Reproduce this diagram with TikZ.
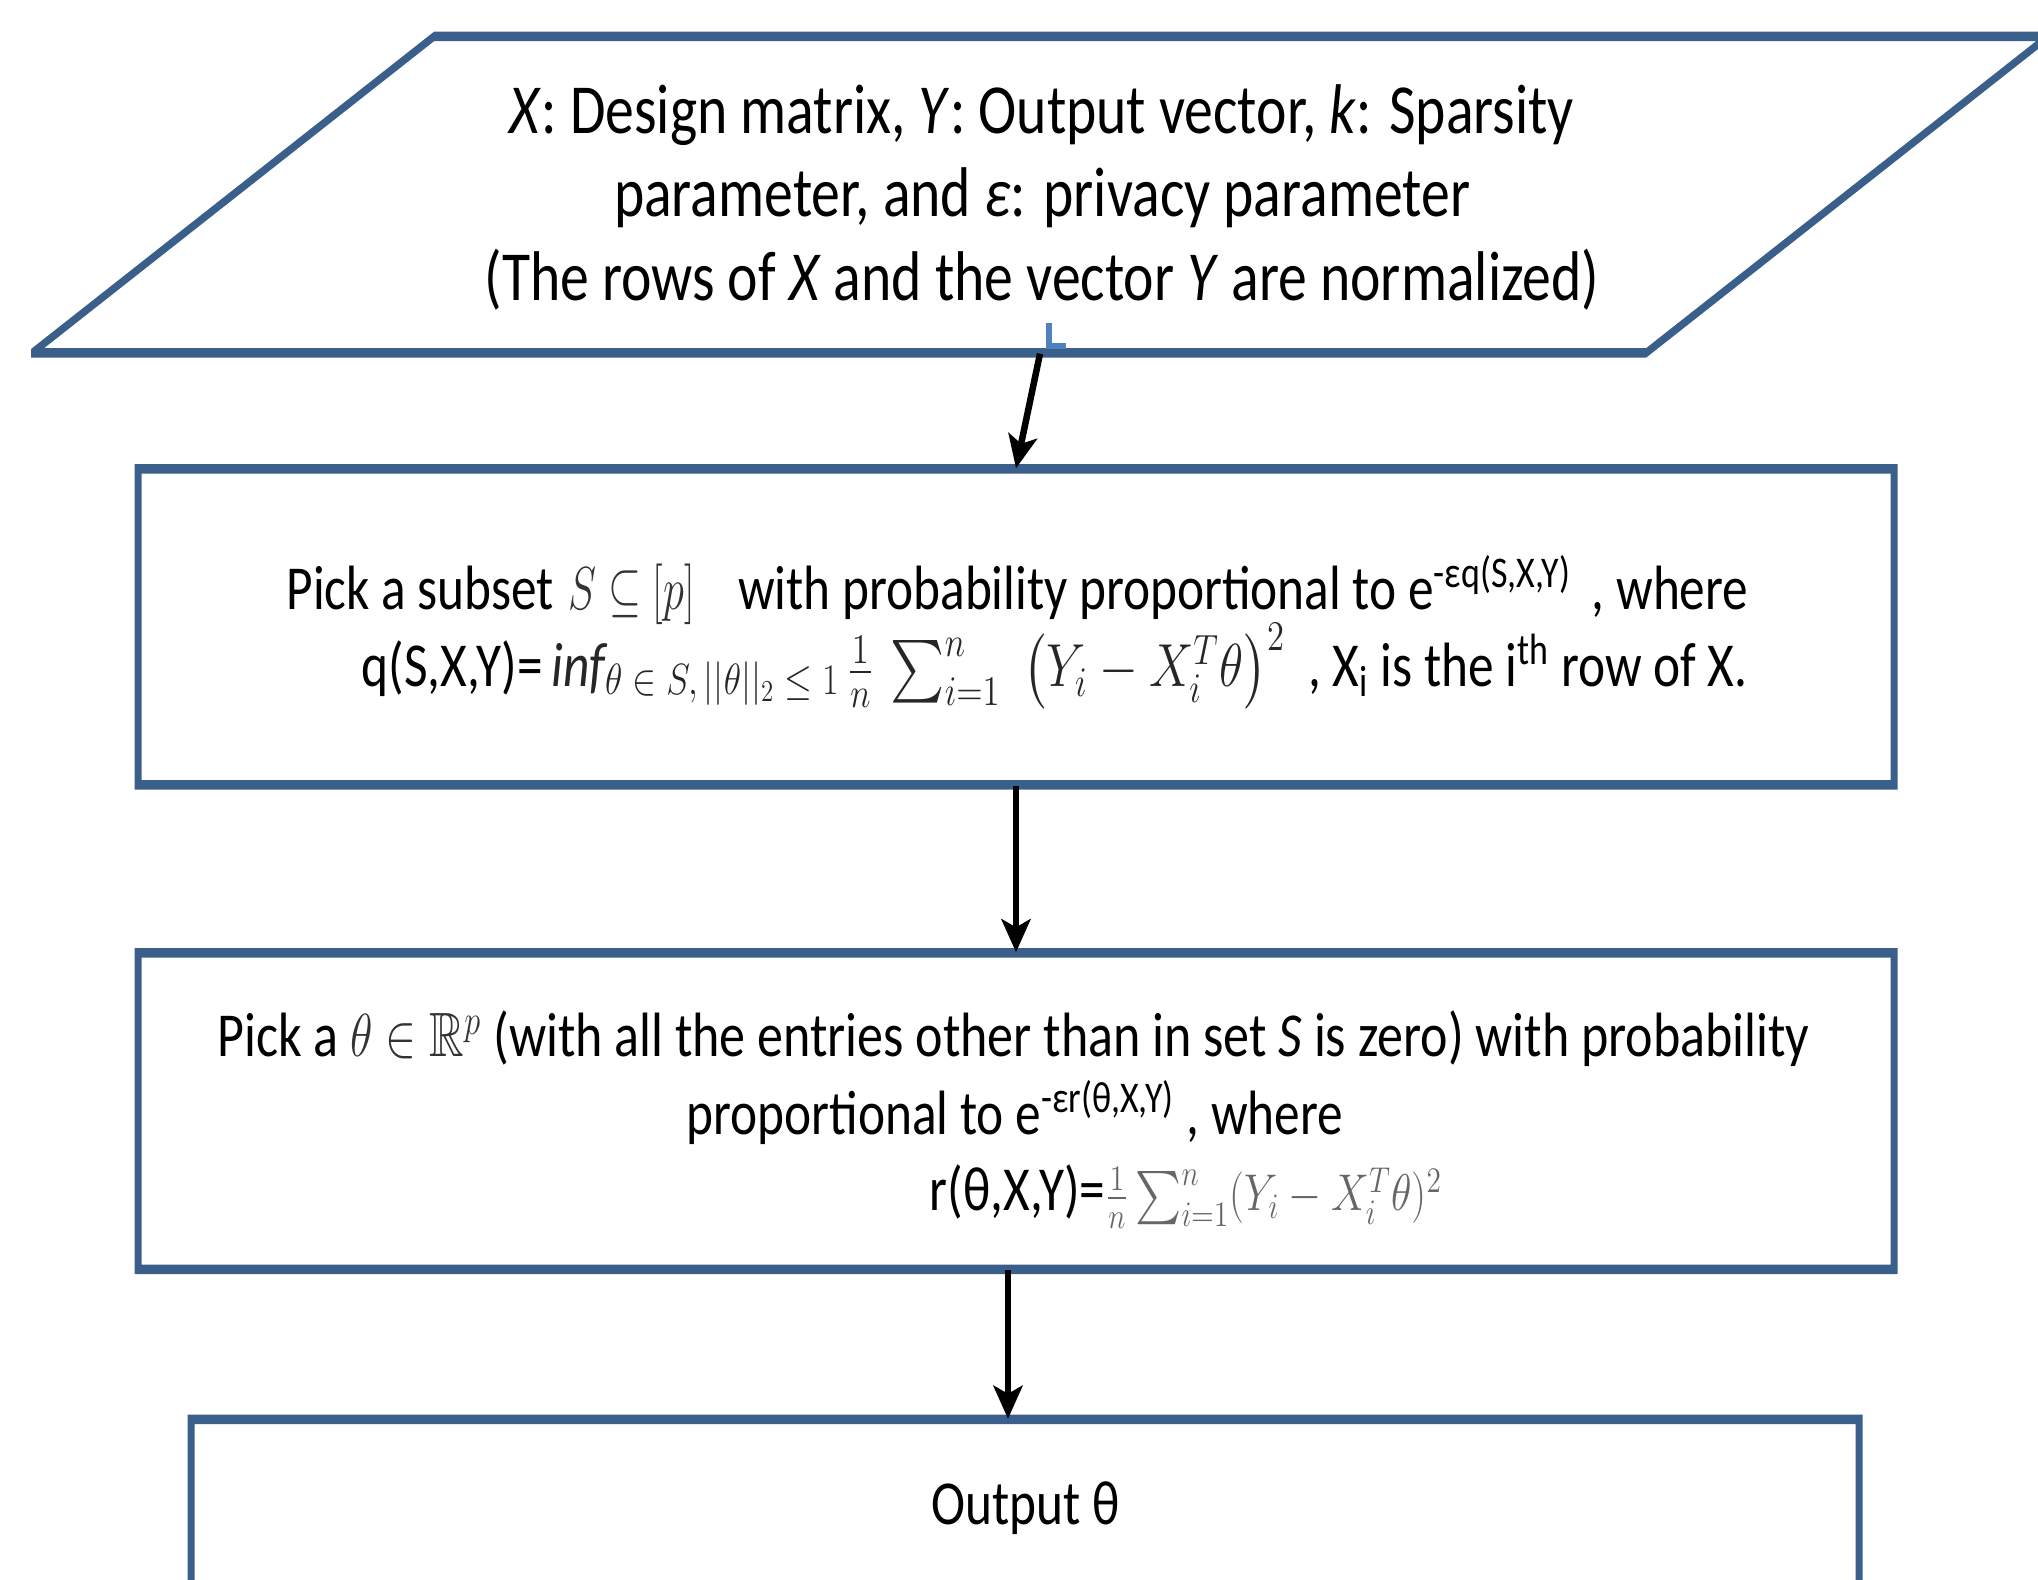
\documentclass[tikz,border=0pt]{standalone}
\usepackage{fontspec}
\usepackage{amssymb}
\setmainfont{Carlito}
\usetikzlibrary{arrows.meta,fit}
\definecolor{frameblue}{HTML}{3A5F8B}
\definecolor{markblue}{HTML}{4F81BD}
% narrow the lettering the way the whole chart is narrowed
\newcommand\sq[2][0.82]{\scalebox{#1}[1]{#2}}
% a framed rectangle: thicker horizontal edges than vertical ones
\newcommand\framerect[4]{%
  \fill[framefill] ({#1-3.5},{#2-4.75}) rectangle ({#3+3.5},{#4+4.75})
                   ({#1+3.5},{#2+4.75}) rectangle ({#3-3.5},{#4-4.75});}
\begin{document}
\begin{tikzpicture}[x=0.01cm,y=-0.01cm,
  framefill/.style={fill=frameblue,even odd rule},
  holder/.style={inner sep=0pt},
  title/.style={inner sep=0pt,anchor=base,font=\fontsize{20}{24}\selectfont},
  lbl/.style={inner sep=0pt,anchor=base west,font=\fontsize{17.8}{21}\selectfont},
  flow/.style={line width=0.065cm,-{Stealth[length=0.33cm,width=0.29cm,inset=0.08cm]}}]
\useasboundingbox (0,0) rectangle (2038,1580);
\clip (0,0) rectangle (2038,1580);

% outline holders used for the connectors
\node[holder,fit={(32,36.5)(2048,353)}] (inp) {};
\node[holder,fit={(138,469)(1894,785)}] (b1) {};
\node[holder,fit={(138,953)(1894,1269.5)}] (b2) {};
\node[holder,fit={(191,1419.5)(1859,1700)}] (b3) {};

% input parallelogram
\fill[framefill] (31,357.75) -- (31,349.06) -- (434.0,31.75) -- (2060.0,31.75) -- (1646.0,357.75) -- cycle
                 (44.0,348.25) -- (434.0,41.25) -- (2036.0,41.25) -- (1646.0,348.25) -- cycle;

% process boxes
\framerect{138}{469}{1894}{785}
\framerect{138}{953}{1894}{1269.5}
\framerect{191}{1419.5}{1859}{1700}

% small mark under the input text
\draw[markblue,line width=0.06cm] (1049,323) -- (1049,346) -- (1066,346);

% connectors
\draw[flow] (inp.south) -- (b1.north);
\draw[flow] (b1.south) -- (b2.north);
\draw[flow] ([xshift=-0.08cm]b2.south) coordinate (a3) -- (a3 |- b3.north);

% input text
\node[title] (t1) at (1042,134) {\sq{\textit{X}: Design matrix, \textit{Y}: Output vector, \textit{k}: Sparsity}};
\node[title] (t2) at (1042,217) {\sq{parameter, and \textit{ε}: privacy parameter}};
\node[title] (t3) at (1042,301) {\sq{(The rows of \textit{X} and the vector \textit{Y} are normalized)}};

% first step
\node[lbl] (s1) at (286,609.5) {\sq{Pick a subset\hspace{5pt}{\color{black!80}\scalebox{0.85}[1]{$S\subseteq[p]$}}\hspace{15pt}with probability proportional to e\textsuperscript{-εq(S,X,Y)}\hspace{3pt} , where}};
\node[lbl] (s2) at (361,687) {\sq{q(S,X,Y)=\,{\color{black!85}$\mathit{inf}$\raisebox{-0.08cm}{\scalebox{0.72}{$\theta\in S,||\theta||_2\leq1$}}$\,\frac{1}{n}\,\sum_{i=1}^{n}\;\left(Y_i-X_i^T\theta\right)^2$}\hspace{8pt}, X\textsubscript{i} is the i\textsuperscript{th} row of X.}};

% second step
\node[lbl] (r1) at (217,1057) {\sq[0.831]{Pick a {\color{black!80}\scalebox{0.92}[1]{$\theta\in\mathbb{R}^p$}} (with all the entries other than in set \textit{S} is zero) with probability}};
\node[lbl] (r2) at (686,1135) {\sq{proportional to e\textsuperscript{-εr(θ,X,Y)} , where}};
\node[lbl] (r3) at (929,1211) {\sq{r(θ,X,Y)={\color{black!60}\scalebox{0.85}{$\frac{1}{n}\sum_{i=1}^{n}(Y_i-X_i^T\theta)^2$}}}};

% result
\node[lbl] (o1) at (931,1525) {\sq{Output θ}};
\end{tikzpicture}
\end{document}
